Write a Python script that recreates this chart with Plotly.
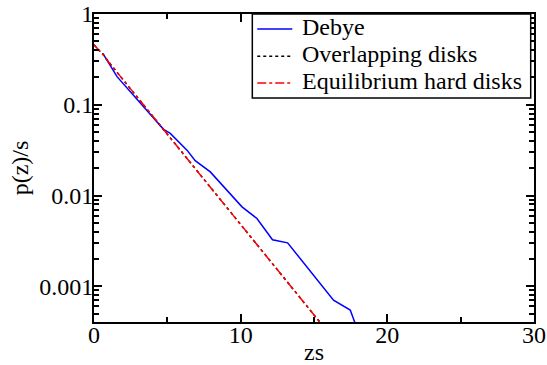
import plotly.graph_objects as go

# Debye (blue solid)
debye_zs = [0.6, 1.57, 4.74, 5.2, 6.34, 6.9, 7.93, 10.09, 11.11, 12.17, 13.2, 16.33, 17.47, 17.9]
debye_p = [0.369, 0.204, 0.0536, 0.0484, 0.0316, 0.0242, 0.0182, 0.0075, 0.00558, 0.00325, 0.00301, 0.000703, 0.000546, 0.000355]

# Equilibrium hard disks (red dash-dot) and overlapping disks (black dotted, coincident)
eq_zs = [0, 0.65, 1, 2, 3, 4, 5, 6, 7, 8, 9, 10, 11, 12, 13, 14, 15, 16]
eq_p = [0.457, 0.353, 0.296, 0.187, 0.118, 0.0748, 0.0473, 0.0299, 0.0189, 0.0120,
        0.00757, 0.00479, 0.00303, 0.00191, 0.00121, 0.000766, 0.000484, 0.000306]
ov_zs = eq_zs
ov_p = eq_p

series_names = ["Debye", "Overlapping disks", "Equilibrium hard disks"]
series_colors = ["#0000ff", "black", "#ff0000"]
series_dash = ["solid", "dot", "dashdot"]

y_tickvals = [1, 0.1, 0.01, 0.001]
y_ticktext = ["1", "0.1", "0.01", "0.001"]
x_tickvals = [0, 10, 20, 30]

FONT = "Liberation Serif, Times New Roman, serif"

fig = go.Figure()
for xs, ys, nm, col, dsh in [(debye_zs, debye_p, series_names[0], series_colors[0], series_dash[0]),
                             (ov_zs, ov_p, series_names[1], series_colors[1], series_dash[1]),
                             (eq_zs, eq_p, series_names[2], series_colors[2], series_dash[2])]:
    fig.add_trace(go.Scatter(x=xs, y=ys, mode="lines", name=nm, showlegend=False,
                             line=dict(color=col, width=1.5, dash=dsh)))

axis_common = dict(showline=True, linecolor="black", linewidth=2, mirror="allticks",
                   ticks="inside", ticklen=8, tickwidth=1.5, tickcolor="black",
                   showgrid=False, zeroline=False, automargin=False,
                   ticklabeloverflow="allow",
                   tickfont=dict(family=FONT, size=24, color="black"))

fig.update_xaxes(range=[0, 30], tickvals=x_tickvals, ticklabelstandoff=-10,
                 title=dict(text="zs", font=dict(family=FONT, size=24, color="black"), standoff=0),
                 minor=dict(ticks="inside", ticklen=5, tickwidth=1.5, tickcolor="black", dtick=5),
                 **axis_common)
fig.update_yaxes(type="log", range=[-3.394, 0], tickvals=y_tickvals, ticktext=y_ticktext,
                 ticklabelstandoff=-6,
                 title=dict(text="p(z)/s", font=dict(family=FONT, size=24, color="black"), standoff=4),
                 minor=dict(ticks="inside", ticklen=5, tickwidth=1.5, tickcolor="black", dtick="D1"),
                 **axis_common)

# custom legend (box, line samples, labels) in paper coordinates
leg_box = dict(x0=0.3598, x1=0.9925, y0=0.727, y1=1.0)
leg_rows_y = [0.9513, 0.8625, 0.7758]
leg_line_x = (0.371, 0.4507)
leg_text_x = 0.468

shapes = [dict(type="rect", xref="paper", yref="paper", **leg_box,
               line=dict(color="black", width=1.5), fillcolor="white", layer="above")]
annotations = []
for nm, col, dsh, yy in zip(series_names, series_colors, series_dash, leg_rows_y):
    shapes.append(dict(type="line", xref="paper", yref="paper",
                       x0=leg_line_x[0], x1=leg_line_x[1], y0=yy, y1=yy,
                       line=dict(color=col, width=1.5, dash=dsh), layer="above"))
    annotations.append(dict(xref="paper", yref="paper", x=leg_text_x, y=yy, text=nm,
                            showarrow=False, xanchor="left", yanchor="middle", yshift=2,
                            font=dict(family=FONT, size=24, color="black")))

fig.update_layout(width=547, height=365, margin=dict(l=94, r=13, t=14, b=43),
                  plot_bgcolor="white", paper_bgcolor="white",
                  font=dict(family=FONT, size=24, color="black"),
                  showlegend=False, shapes=shapes, annotations=annotations)

fig.write_html("out.html", config={"displayModeBar": False},
               post_script="document.body.style.margin='0px';document.body.style.overflow='hidden';")
